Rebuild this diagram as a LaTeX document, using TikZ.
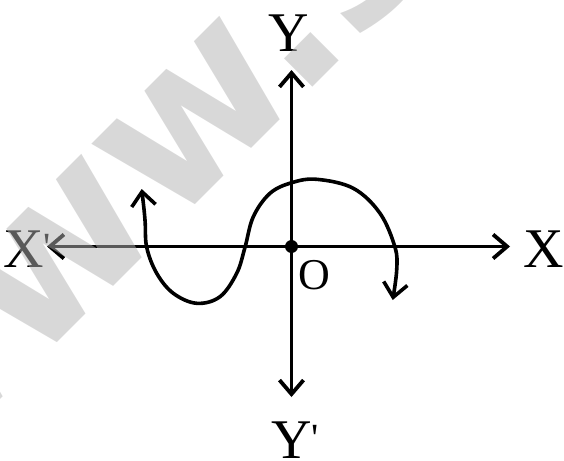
\documentclass[tikz,border=0pt]{standalone}
\usepackage{fontspec}
\setmainfont{Liberation Serif}
\newfontfamily\wmfont{DejaVu Sans}
\usetikzlibrary{arrows.meta}
\begin{document}
\begin{tikzpicture}[x=1pt,y=1pt,
  >={Straight Barb[length=14pt,width=24pt]},
  axisline/.style={line width=3.8pt, <->},
  curveline/.style={line width=3.6pt, <->},
  lab/.style={inner sep=0pt, anchor=base, font=\fontsize{56}{56}\selectfont},
  olab/.style={inner sep=0pt, anchor=base, font=\fontsize{44}{44}\selectfont},
  wmark/.style={rotate=45, anchor=base west, inner sep=0pt, text=black!30, text opacity=0.5,
    font=\wmfont\bfseries\fontsize{212}{212}\selectfont}]
\useasboundingbox (0,0) rectangle (564,-460);
% coordinates
\coordinate (O) at (291.5,-246.5);
\coordinate (xl) at (47,-246.5);
\coordinate (xr) at (510,-246.5);
\coordinate (yt) at (291.5,-70);
\coordinate (yb) at (291.5,-397);
% axes
\draw[axisline] (xl) -- (xr);
\draw[axisline] (yb) -- (yt);
\fill (O) circle (6.5pt);
% curve
\draw[curveline] plot[smooth, tension=0.6] coordinates {
  (141.7,-189) (145,-220) (146.7,-247.3) (156.7,-273.3) (173.3,-293.3)
  (196.7,-303.3) (220,-296.7) (236.7,-273.3) (245,-247.3) (253.3,-216.7)
  (270,-193.3) (291.7,-182.7) (316.7,-179.3) (353.3,-188.3) (380,-213.3)
  (395,-247.3) (396.7,-270) (392.7,-300)};
% labels
\node[lab] (Xlab) at (543.5,-267) {X};
\node[lab] (Xplab) at (23.5,-267) {X\rlap{\smash{\raisebox{0.12em}{\fontsize{40}{40}\selectfont\textquotesingle}}}};
\node[lab] (Ylab) at (288.5,-51.5) {Y};
\node[lab] (Yplab) at (291.5,-458) {Y\rlap{\smash{\raisebox{0.12em}{\fontsize{40}{40}\selectfont\textquotesingle}}}};
\node[olab] (Olab) at (314,-289) {O};
% watermark
\begin{scope}
\clip (0,0) rectangle (564,-460);
\node[wmark] (wm) at (-108.5,-508.5) {www.s};
\end{scope}
\end{tikzpicture}
\end{document}
